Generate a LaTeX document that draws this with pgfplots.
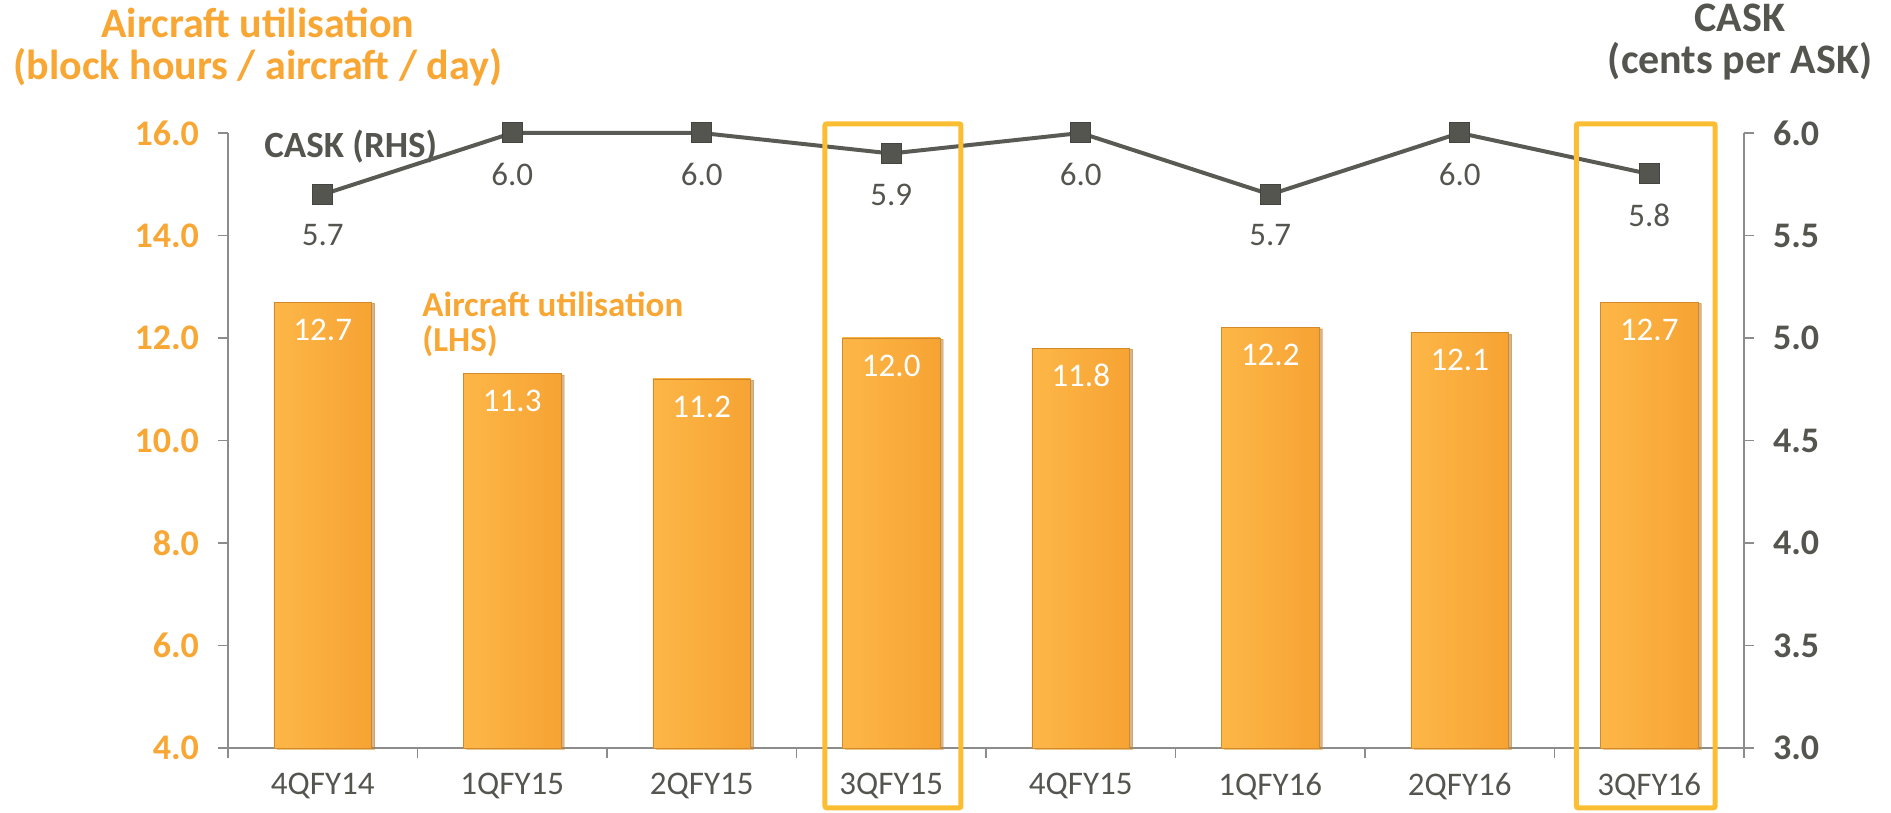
\documentclass[border=0pt]{standalone}
\usepackage{pgfplots}
\pgfplotsset{compat=1.18}
\usetikzlibrary{shadows}
\usepackage{fontspec}
\setmainfont{Carlito}
\definecolor{uorange}{HTML}{F8A634}
\definecolor{ugray}{HTML}{555550}
\definecolor{lgray}{HTML}{5A5A55}
\definecolor{axgray}{HTML}{8C8C8C}
\definecolor{hbox}{HTML}{FBBD31}
\definecolor{barL}{HTML}{FDB747}
\definecolor{barM}{HTML}{FBAF3D}
\definecolor{barR}{HTML}{F6A333}
\definecolor{barE}{HTML}{D08A2C}
\pgfplotstableread{
x cask
0 5.7
1 6.0
2 6.0
3 5.9
4 6.0
5 5.7
6 6.0
7 5.8
}\caskdata
\begin{document}
\begin{tikzpicture}
\useasboundingbox (-114bp,-32.5bp) rectangle (831.5bp,374bp);
\pgfplotsset{
  base/.style={
    at={(0,0)}, anchor=south west, scale only axis,
    width=758bp, height=307.5bp,
    xmin=-0.5, xmax=7.5,
    clip=false,
    tick align=outside,
    major tick length=5bp,
    axis line style={draw=axgray, line width=0.75bp},
    every tick/.style={draw=axgray, line width=0.75bp},
    /pgf/number format/.cd, fixed, fixed zerofill, precision=1, assume math mode=true,
  },
  ubar/.style={ybar, bar width=0.515, bar shift=0pt, draw=barE, line width=0.4bp,
    left color=barL, middle color=barM, right color=barR,
    drop shadow={shadow xshift=1.6bp, shadow yshift=-0.6bp, opacity=0.35, fill=black!70},
    nodes near coords,
    every node near coord/.append style={anchor=center, yshift=-13.75bp, text=white, font=\fontsize{16.5bp}{16.5bp}\selectfont}},
}
\begin{axis}[base,
  ymin=4, ymax=16,
  axis x line*=bottom, axis y line*=left,
  xtick={-0.5,0.5,...,7.5},
  xticklabels={4QFY14,1QFY15,2QFY15,3QFY15,4QFY15,1QFY16,2QFY16,3QFY16,{}},
  xticklabel style={xshift=47.375bp, yshift=-4bp, text=ugray, font=\fontsize{16.5bp}{16.5bp}\selectfont},
  ytick={4,6,...,16},
  yticklabel style={text=uorange, font=\bfseries\fontsize{18bp}{18bp}\selectfont, xshift=-6bp},
]
\addplot[ubar] coordinates {(0,12.7)};
\addplot[ubar] coordinates {(1,11.3)};
\addplot[ubar] coordinates {(2,11.2)};
\addplot[ubar] coordinates {(3,12.0)};
\addplot[ubar] coordinates {(4,11.8)};
\addplot[ubar] coordinates {(5,12.2)};
\addplot[ubar] coordinates {(6,12.1)};
\addplot[ubar] coordinates {(7,12.7)};
\node[anchor=base west, inner sep=0, text=uorange, font=\bfseries\fontsize{17.5bp}{17.5bp}\selectfont] at (axis cs:0.524,12.41) {Aircraft utilisation};
\node[anchor=base west, inner sep=0, text=uorange, font=\bfseries\fontsize{17.5bp}{17.5bp}\selectfont] at (axis cs:0.524,11.73) {(LHS)};
\node[anchor=base west, inner sep=0, text=ugray, font=\bfseries\fontsize{18.5bp}{18.5bp}\selectfont] at (axis cs:-0.31,15.53) {CASK (RHS)};
\node[anchor=base, inner sep=0, text=uorange, font=\bfseries\fontsize{21bp}{21bp}\selectfont] at (axis cs:-0.342,17.87) {Aircraft utilisation};
\node[anchor=base, inner sep=0, text=uorange, font=\bfseries\fontsize{21bp}{21bp}\selectfont] at (axis cs:-0.342,17.05) {(block hours / aircraft / day)};
\node[anchor=base, inner sep=0, text=ugray, font=\bfseries\fontsize{21bp}{21bp}\selectfont] at (axis cs:7.479,17.98) {CASK};
\node[anchor=base, inner sep=0, text=ugray, font=\bfseries\fontsize{21bp}{21bp}\selectfont] at (axis cs:7.479,17.17) {(cents per ASK)};
\end{axis}
\begin{axis}[base,
  ymin=3, ymax=6,
  axis y line*=right, axis x line=none,
  ytick={3,3.5,...,6},
  yticklabel style={text=ugray, font=\bfseries\fontsize{18bp}{18bp}\selectfont, xshift=6bp},
]
\addplot[color=lgray, line width=2bp, mark=square*, mark size=5bp,
  mark options={fill=ugray, draw=ugray!80!black, line width=0.5bp},
  nodes near coords,
  every node near coord/.append style={anchor=center, yshift=-20.5bp, text=ugray, font=\fontsize{16.5bp}{16.5bp}\selectfont}]
  table[x=x, y=cask] {\caskdata};
\draw[hbox, line width=2.5bp, rounded corners=1bp] (axis cs:2.650,2.708) rectangle (axis cs:3.368,6.045);
\draw[hbox, line width=2.5bp, rounded corners=1bp] (axis cs:6.615,2.708) rectangle (axis cs:7.348,6.045);
\end{axis}
\end{tikzpicture}
\end{document}
